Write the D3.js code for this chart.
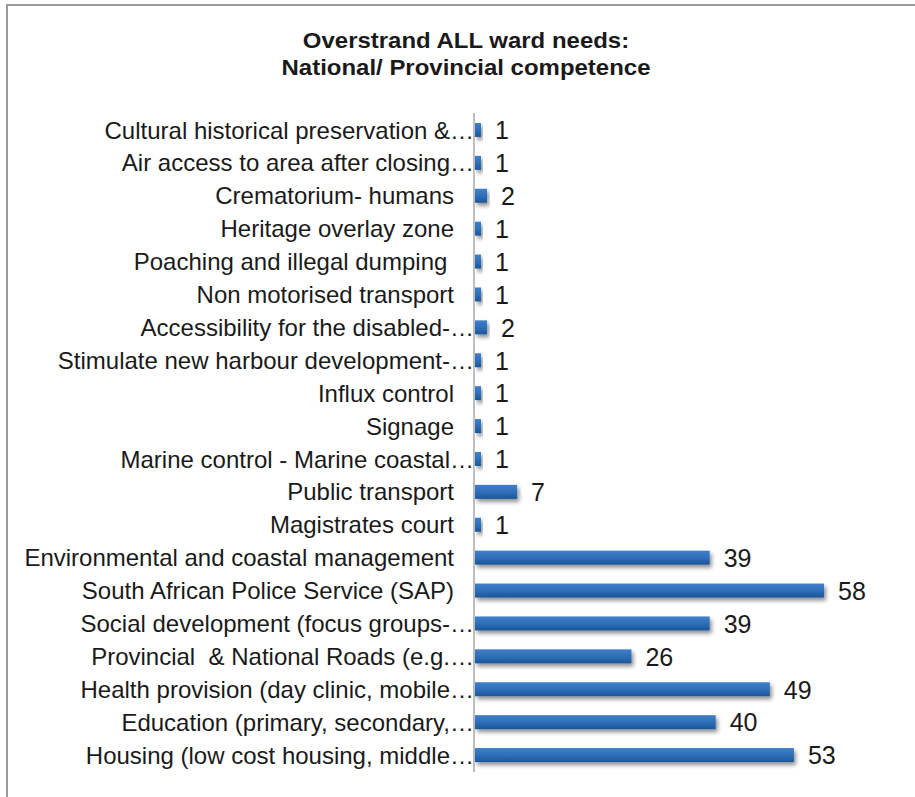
<!DOCTYPE html>
<html>
<head>
<meta charset="utf-8">
<script src="https://cdn.jsdelivr.net/npm/d3@7"></script>
<style>
  html, body { margin: 0; padding: 0; background: #fff; }
  svg text { font-family: "Liberation Sans", Arial, sans-serif; fill: #1a1a1a; white-space: pre; }
</style>
</head>
<body>
<svg id="chart" width="915" height="797"></svg>
<script>
// Ward needs under national / provincial competence, listed top to bottom
const categories = [
  "Cultural historical preservation &…",
  "Air access to area after closing…",
  "Crematorium- humans",
  "Heritage overlay zone",
  "Poaching and illegal dumping ",
  "Non motorised transport",
  "Accessibility for the disabled-…",
  "Stimulate new harbour development-…",
  "Influx control",
  "Signage",
  "Marine control - Marine coastal…",
  "Public transport",
  "Magistrates court",
  "Environmental and coastal management",
  "South African Police Service (SAP)",
  "Social development (focus groups-…",
  "Provincial  & National Roads (e.g.…",
  "Health provision (day clinic, mobile…",
  "Education (primary, secondary,…",
  "Housing (low cost housing, middle…"
];
const counts = [1, 1, 2, 1, 1, 1, 2, 1, 1, 1, 1, 7, 1, 39, 58, 39, 26, 49, 40, 53];
const titleLines = ["Overstrand ALL ward needs:", "National/ Provincial competence"];

const data = categories.map((c, i) => ({ label: c, value: counts[i] }));

const svg = d3.select("#chart");

// frame
svg.append("rect")
  .attr("x", 7).attr("y", 5)
  .attr("width", 1000).attr("height", 1000)
  .attr("fill", "none").attr("stroke", "#9a9a9a").attr("stroke-width", 2);

const defs = svg.append("defs");
const grad = defs.append("linearGradient")
  .attr("id", "barFill").attr("x1", 0).attr("y1", 0).attr("x2", 0).attr("y2", 1);
grad.append("stop").attr("offset", "0%").attr("stop-color", "#3f80ca");
grad.append("stop").attr("offset", "55%").attr("stop-color", "#2e6db7");
grad.append("stop").attr("offset", "100%").attr("stop-color", "#1b5597");

const shadow = defs.append("filter").attr("id", "barShadow")
  .attr("x", "-10%").attr("y", "-50%").attr("width", "130%").attr("height", "250%");
shadow.append("feGaussianBlur").attr("in", "SourceAlpha").attr("stdDeviation", 2).attr("result", "blur");
shadow.append("feOffset").attr("in", "blur").attr("dx", 2).attr("dy", 3).attr("result", "off");
shadow.append("feComponentTransfer").attr("in", "off").attr("result", "soft")
  .append("feFuncA").attr("type", "linear").attr("slope", 0.45);
const merge = shadow.append("feMerge");
merge.append("feMergeNode").attr("in", "soft");
merge.append("feMergeNode").attr("in", "SourceGraphic");

const x0 = 475;
const x = d3.scaleLinear().domain([0, 58]).range([x0, 824]);
const y = d3.scaleBand()
  .domain(categories)
  .range([113.5, 771.5])
  .paddingInner(0.575)
  .paddingOuter(0.2875);

// title (slightly wide-set)
svg.append("g")
  .attr("transform", "translate(466,0) scale(1.09,1)")
  .append("text")
  .attr("text-anchor", "middle")
  .style("font-weight", "bold").style("font-size", "22px")
  .selectAll("tspan").data(titleLines).join("tspan")
  .attr("x", 0).attr("y", (d, i) => 48 + i * 27)
  .text(d => d);

// bars
svg.append("g").selectAll("rect").data(data).join("rect")
  .attr("x", x0)
  .attr("y", d => y(d.label))
  .attr("width", d => x(d.value) - x0)
  .attr("height", y.bandwidth())
  .attr("fill", "url(#barFill)")
  .attr("filter", "url(#barShadow)");

// category axis line
svg.append("line")
  .attr("x1", 474).attr("x2", 474)
  .attr("y1", 113).attr("y2", 772)
  .attr("stroke", "#a8a8a8").attr("stroke-width", 1.5);

// category labels (truncated ones run up to the axis)
svg.append("g").selectAll("text").data(data).join("text")
  .attr("x", d => d.label.endsWith("…") ? 474 : 454)
  .attr("y", d => y(d.label) + y.bandwidth() / 2)
  .attr("dy", "0.36em")
  .attr("text-anchor", "end")
  .style("font-size", "24px")
  .text(d => d.label);

// value labels
svg.append("g").selectAll("text").data(data).join("text")
  .attr("x", d => x(d.value) + 14)
  .attr("y", d => y(d.label) + y.bandwidth() / 2)
  .attr("dy", "0.37em")
  .style("font-size", "25px")
  .text(d => d.value);
</script>
</body>
</html>
